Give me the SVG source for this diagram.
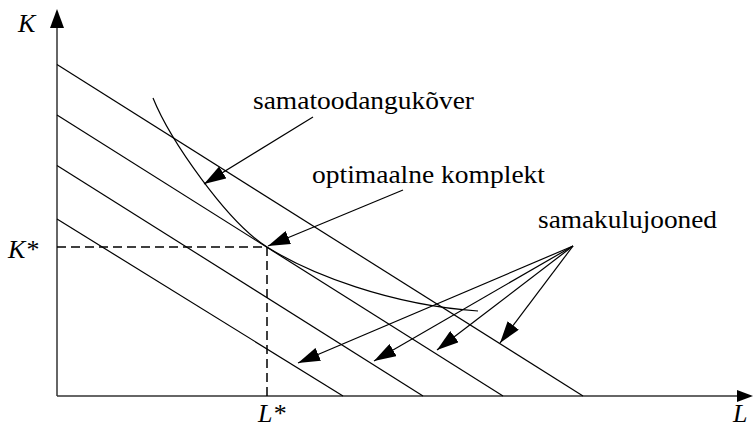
<svg xmlns="http://www.w3.org/2000/svg" width="753" height="429" viewBox="0 0 753 429">
<style>
.ax{stroke:#333;stroke-width:1.5;fill:none}
.ln{stroke:#000;stroke-width:1.2;fill:none}
.dash{stroke:#000;stroke-width:1.5;stroke-dasharray:9 5;fill:none}
.ar{stroke:#000;stroke-width:1.2;fill:none;marker-end:url(#ah)}
.t{font-family:"Liberation Serif","Times New Roman",serif;font-size:26px;fill:#000}
.i{font-style:italic}
</style>
<defs>
<marker id="ah" markerUnits="userSpaceOnUse" markerWidth="24" markerHeight="14" refX="22" refY="7" orient="auto">
<path d="M0,0 L22,7 L0,14 Z" fill="#000"/>
</marker>
</defs>
<g id="axes">
<line class="ax" x1="57" y1="396" x2="57" y2="26"/>
<path d="M50,28 L57,9 L64,28 Z" fill="#000"/>
<line class="ax" x1="57" y1="396" x2="738" y2="396"/>
<path d="M737,390 L753,396 L737,402 Z" fill="#000"/>
</g>
<g id="connectors">
<line class="ln" x1="57" y1="64.6" x2="583" y2="396"/>
<line class="ln" x1="57" y1="115" x2="503" y2="396"/>
<line class="ln" x1="57" y1="165.4" x2="423" y2="396"/>
<line class="ln" x1="57" y1="219" x2="343" y2="396"/>
<path class="ln" d="M153,98 C170,140 227,222 267,247 C310,274 390,305 478,311"/>
<polyline class="dash" points="57,247 267,247 267,396"/>
<line class="ar" x1="313" y1="117" x2="204" y2="184"/>
<line class="ar" x1="403" y1="190" x2="268" y2="246"/>
<line class="ar" x1="573" y1="246" x2="298" y2="363"/>
<line class="ar" x1="573" y1="246" x2="374" y2="361"/>
<line class="ar" x1="573" y1="246" x2="437" y2="350"/>
<line class="ar" x1="573" y1="246" x2="500" y2="343"/>
</g>
<g id="labels">
<text class="t i" x="18" y="32">K</text>
<text class="t i" x="8" y="258">K*</text>
<text class="t i" x="258" y="422">L*</text>
<text class="t i" x="733" y="422">L</text>
<text class="t" x="253" y="109" textLength="221" lengthAdjust="spacingAndGlyphs">samatoodangukõver</text>
<text class="t" x="312" y="183" textLength="233" lengthAdjust="spacingAndGlyphs">optimaalne komplekt</text>
<text class="t" x="538" y="228" textLength="179" lengthAdjust="spacingAndGlyphs">samakulujooned</text>
</g>
</svg>
